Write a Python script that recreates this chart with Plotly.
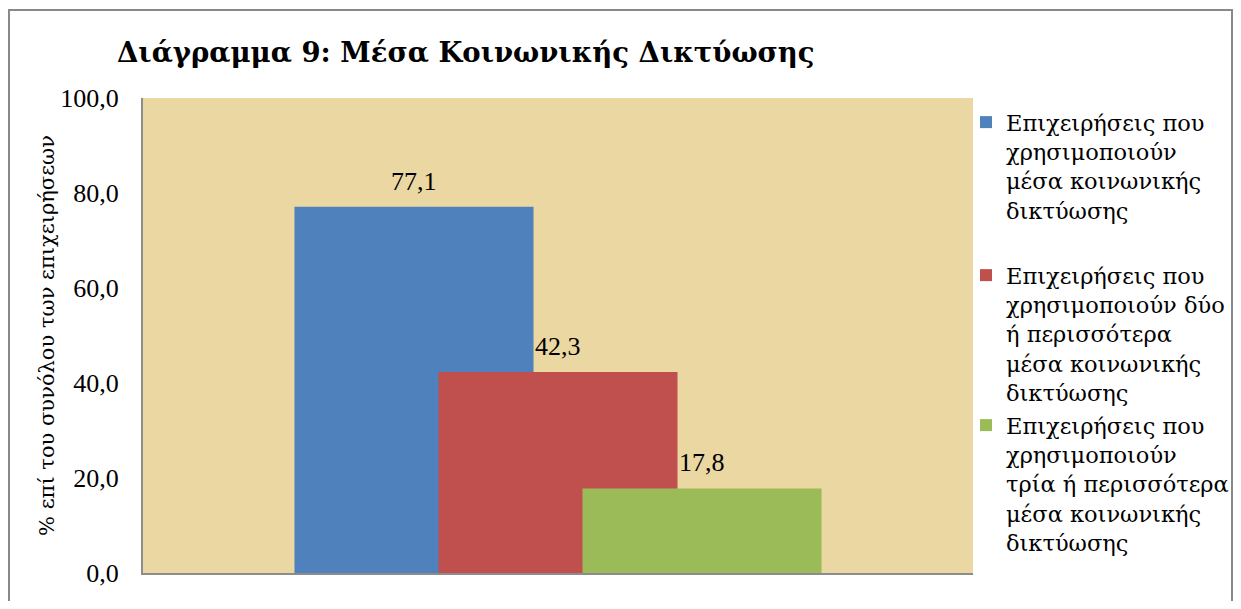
import plotly.graph_objects as go

# chart data
series_names = [
    "Επιχειρήσεις που<br>χρησιμοποιούν<br>μέσα κοινωνικής<br>δικτύωσης",
    "Επιχειρήσεις που<br>χρησιμοποιούν δύο<br>ή περισσότερα<br>μέσα κοινωνικής<br>δικτύωσης",
    "Επιχειρήσεις που<br>χρησιμοποιούν<br>τρία ή περισσότερα<br>μέσα κοινωνικής<br>δικτύωσης",
]
values = [77.1, 42.3, 17.8]
y_ticks = [0, 20, 40, 60, 80, 100]

title_text = "Διάγραμμα 9: Μέσα Κοινωνικής Δικτύωσης"
y_title = "% επί του συνόλου των επιχειρήσεων"

# styling
colors = ["#4F81BD", "#C0504D", "#9BBB59"]
serif = "Liberation Serif, Times New Roman, serif"
greek = "DejaVu Serif, Liberation Serif, serif"
# page body has an 8px margin; keep the figure inside the window
W, H = 1225, 593
L, R, T, B = 135, 260, 90, 28
plot_w = W - L - R
plot_h = H - T - B

# overlapping bars, Excel style
bar_w = 0.288
step = 0.1735
legend_ids = ["legend", "legend2", "legend3"]
legend_tops = [101, 254, 404]  # screen y of each legend block top


def px(screen_x):
    return (screen_x - 8 - L) / plot_w


def py(screen_y):
    return (H - B - (screen_y - 8)) / plot_h


fig = go.Figure()
for i, (name, v) in enumerate(zip(series_names, values)):
    off = -bar_w / 2 + (i - 1) * step
    fig.add_trace(go.Bar(
        x=[0], y=[v], name=name,
        width=bar_w, offset=off,
        marker=dict(color=colors[i], line=dict(width=0)),
        legend=legend_ids[i],
    ))
    fig.add_annotation(
        x=off + bar_w / 2, y=v, text=f"{v:.1f}".replace(".", ","),
        showarrow=False, yanchor="bottom", yshift=9,
        font=dict(family=serif, size=26, color="#000000"),
    )

fig.update_layout(
    width=W, height=H,
    barmode="overlay",
    separators=",.",
    paper_bgcolor="white",
    plot_bgcolor="#EAD7A2",
    margin=dict(l=L, r=R, t=T, b=B, autoexpand=False),
    font=dict(family=serif, size=24, color="#000000"),
    title=dict(text="<b>" + title_text + "</b>", xref="container", yref="container",
               x=(117 - 8) / W, xanchor="left", y=1 - (52 - 8) / H, yanchor="middle",
               font=dict(family=greek, size=27.5, color="#000000")),
    showlegend=True,
)

for lid, top in zip(legend_ids, legend_tops):
    fig.update_layout({lid: dict(
        x=px(966), xanchor="left", y=py(top), yanchor="top",
        valign="top", bgcolor="rgba(0,0,0,0)", borderwidth=0,
        font=dict(family=greek, size=22.5, color="#000000"),
    )})

fig.update_xaxes(range=[-0.5, 0.5], showticklabels=False, showgrid=False,
                 zeroline=False, showline=True, linecolor="#8C8C8C", linewidth=2,
                 fixedrange=True)
fig.update_yaxes(range=[0, 100], tickvals=y_ticks, tickformat=".1f",
                 showgrid=False, zeroline=False, showline=True,
                 linecolor="#8C8C8C", linewidth=2, ticks="",
                 ticklabelstandoff=17,
                 tickfont=dict(family=serif, size=26, color="#000000"),
                 title=dict(text=y_title, standoff=0,
                            font=dict(family=greek, size=21, color="#000000")),
                 fixedrange=True)

# outer chart border
fig.add_shape(type="rect", xref="paper", yref="paper",
              x0=px(9), x1=px(1232), y0=py(620), y1=py(10),
              line=dict(color="#898989", width=2), fillcolor="rgba(0,0,0,0)",
              layer="below")

fig.write_html("out.html")
